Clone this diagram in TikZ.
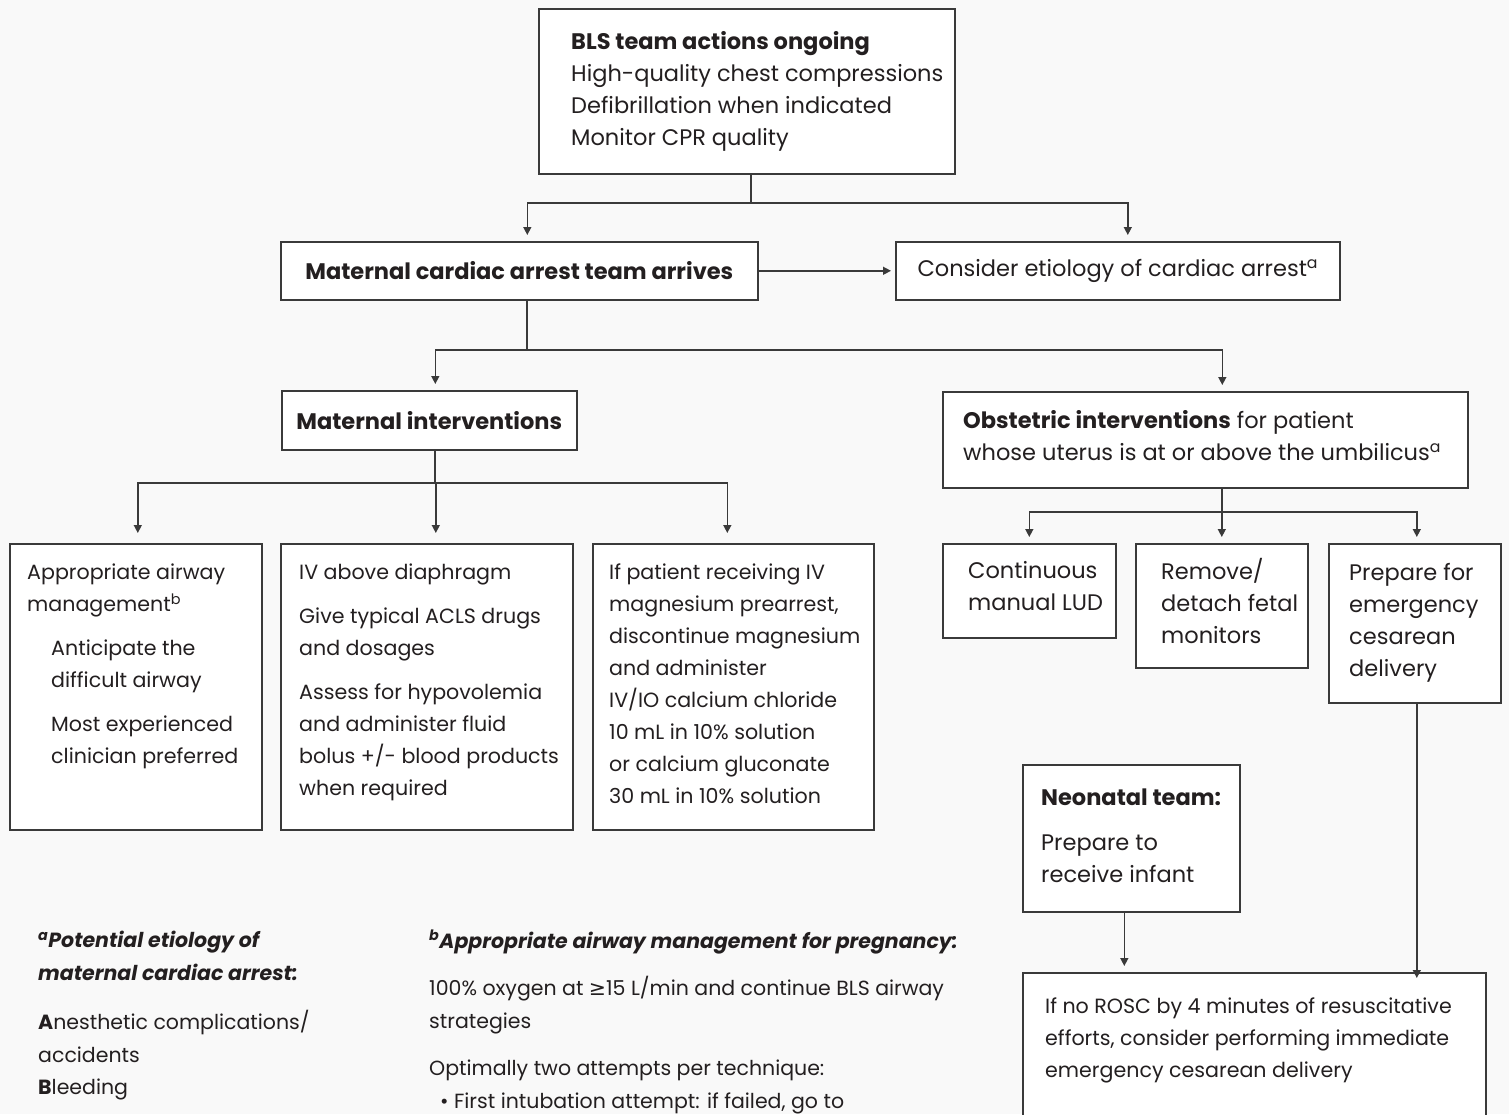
\documentclass[tikz,border=0pt]{standalone}
\usepackage{fontspec}
\setmainfont{Poppins}
\newfontfamily\symfont{DejaVu Sans}
\usetikzlibrary{arrows.meta, calc}

\definecolor{bgc}{HTML}{F9F9F9}
\definecolor{inkc}{HTML}{231F20}
\definecolor{linec}{HTML}{3A3A3A}

\tikzset{
    box/.style={draw=linec, fill=white, line width=1.6pt, anchor=north west, inner sep=0pt,
        text=inkc, font=\fontsize{22.5}{32}\selectfont},
    txt/.style={anchor=north west, align=left, inner sep=0pt, text=inkc,
        font=\fontsize{22.5}{32}\selectfont},
    small/.style={txt, font=\fontsize{20.6}{32}\selectfont},
    note/.style={txt, font=\fontsize{20.5}{32.5}\selectfont},
    line/.style={draw=linec, line width=1.4pt},
    arr/.style={line, -{Triangle[length=8pt, width=8pt]}, shorten >=6pt},
}

\begin{document}
\begin{tikzpicture}[x=1pt, y=-1pt]
    \path[use as bounding box, clip] (0,0) rectangle (1509,1114);
    \fill[bgc] (0,0) rectangle (1509,1114);

    % Top
    \node[box, minimum width=416, minimum height=165] (bls) at (538,8) {};
    \node[txt] (blsT) at (571,31) {\textbf{BLS team actions ongoing}\\High-quality chest compressions\\Defibrillation when indicated\\Monitor CPR quality};

    \node[box, minimum width=477, minimum height=58] (mca) at (280,241) {\textbf{Maternal cardiac arrest team arrives}};
    \node[box, minimum width=444, minimum height=58] (cons) at (895,241) {Consider etiology of cardiac arrest\textsuperscript{a}};

    % Second level
    \node[box, minimum width=295, minimum height=59] (mi) at (281,390) {\textbf{Maternal interventions}};
    \node[box, minimum width=525, minimum height=96] (obs) at (942,391) {};
    \node[txt] (obsT) at (963,410) {\textbf{Obstetric interventions} for patient\\whose uterus is at or above the umbilicus\textsuperscript{a}};

    % Maternal interventions
    \node[box, minimum width=252, minimum height=286] (airw) at (9,543) {};
    \node[small] (airwT) at (27,564) {Appropriate airway\\management\textsuperscript{b}};
    \node[small] (airwS) at (51,640) {Anticipate the\\difficult airway\\[12pt]Most experienced\\clinician preferred};

    \node[box, minimum width=292, minimum height=286] (ivd) at (280,543) {};
    \node[small] (ivdT) at (299,564) {IV above diaphragm\\[12pt]Give typical ACLS drugs\\and dosages\\[12pt]Assess for hypovolemia\\and administer fluid\\bolus +/- blood products\\when required};

    \node[box, minimum width=281, minimum height=286] (mag) at (592,543) {};
    \node[small] (magT) at (609,564) {If patient receiving IV\\magnesium prearrest,\\discontinue magnesium\\and administer\\IV/IO calcium chloride\\10 mL in 10\% solution\\or calcium gluconate\\30 mL in 10\% solution};

    % Obstetric interventions
    \node[box, minimum width=173, minimum height=94] (lud) at (942,543) {};
    \node[txt] (ludT) at (968,561) {Continuous\\manual LUD};
    \node[box, minimum width=172, minimum height=124] (fetal) at (1135,543) {};
    \node[txt] (fetalT) at (1161,558) {Remove/\\detach fetal\\monitors};
    \node[box, minimum width=172, minimum height=159] (prep) at (1328,543) {};
    \node[txt] (prepT) at (1349,563) {Prepare for\\emergency\\cesarean\\delivery};

    % Neonatal team and ROSC
    \node[box, minimum width=217, minimum height=147] (neo) at (1022,764) {};
    \node[txt] (neoT) at (1041,789) {\textbf{Neonatal team:}\\[13pt]Prepare to\\receive infant};
    \node[box, minimum width=463, minimum height=170] (rosc) at (1022,972) {};
    \node[small] (roscT) at (1045,998) {If no ROSC by 4 minutes of resuscitative\\efforts, consider performing immediate\\emergency cesarean delivery};

    % Footnotes
    \node[note] (noteA) at (38,931) {\textbf{\textit{\textsuperscript{a}Potential etiology of}}\\\textbf{\textit{maternal cardiac arrest:}}\\[17pt]\textbf{A}nesthetic complications/\\accidents\\\textbf{B}leeding};
    \node[note] (noteB) at (429,930) {\textbf{\textit{\textsuperscript{b}Appropriate airway management for pregnancy:}}\\[15pt]100\% oxygen at {\symfont ≥}15 L/min and continue BLS airway\\strategies\\[15pt]Optimally two attempts per technique:\\\hspace*{11pt}• First intubation attempt: if failed, go to};

    % Connectors
    \coordinate (j1) at (751,203);
    \draw[line] (bls.south -| j1) -- (j1);
    \draw[arr] (j1) -| ($(mca.north)+(8,0)$);
    \draw[arr] (j1) -| ($(cons.north)+(10,0)$);
    \draw[arr, shorten >=4pt] (mca.east) -- (cons.west);

    \coordinate (j2) at (527,350);
    \draw[line] (mca.south -| j2) -- (j2);
    \draw[arr] (j2) -| ($(mi.north)+(6,0)$);
    \draw[arr] (j2) -| ($(obs.north)+(17,0)$);

    \coordinate (j3) at (435,483);
    \draw[line] (mi.south -| j3) -- (j3);
    \draw[arr, shorten >=10pt] (j3) -| ($(airw.north)+(2,0)$);
    \draw[arr, shorten >=10pt] (j3) -| ($(ivd.north)+(9,0)$);
    \draw[arr, shorten >=10pt] (j3) -| ($(mag.north)+(-6,0)$);

    \coordinate (j4) at (1222,512);
    \draw[line] (obs.south -| j4) -- (j4);
    \draw[arr] (j4) -| (lud.north);
    \draw[arr] (j4) -| (fetal.north);
    \draw[arr] (j4) -| ($(prep.north)+(2,0)$);

    \draw[arr] ($(neo.south)+(-7,0)$) -- ($(neo.south |- rosc.north)+(-7,0)$);
    \draw[arr, shorten >=-6pt] ($(prep.south)+(2,0)$) -- ($(prep.south |- rosc.north)+(2,0)$);
\end{tikzpicture}
\end{document}
